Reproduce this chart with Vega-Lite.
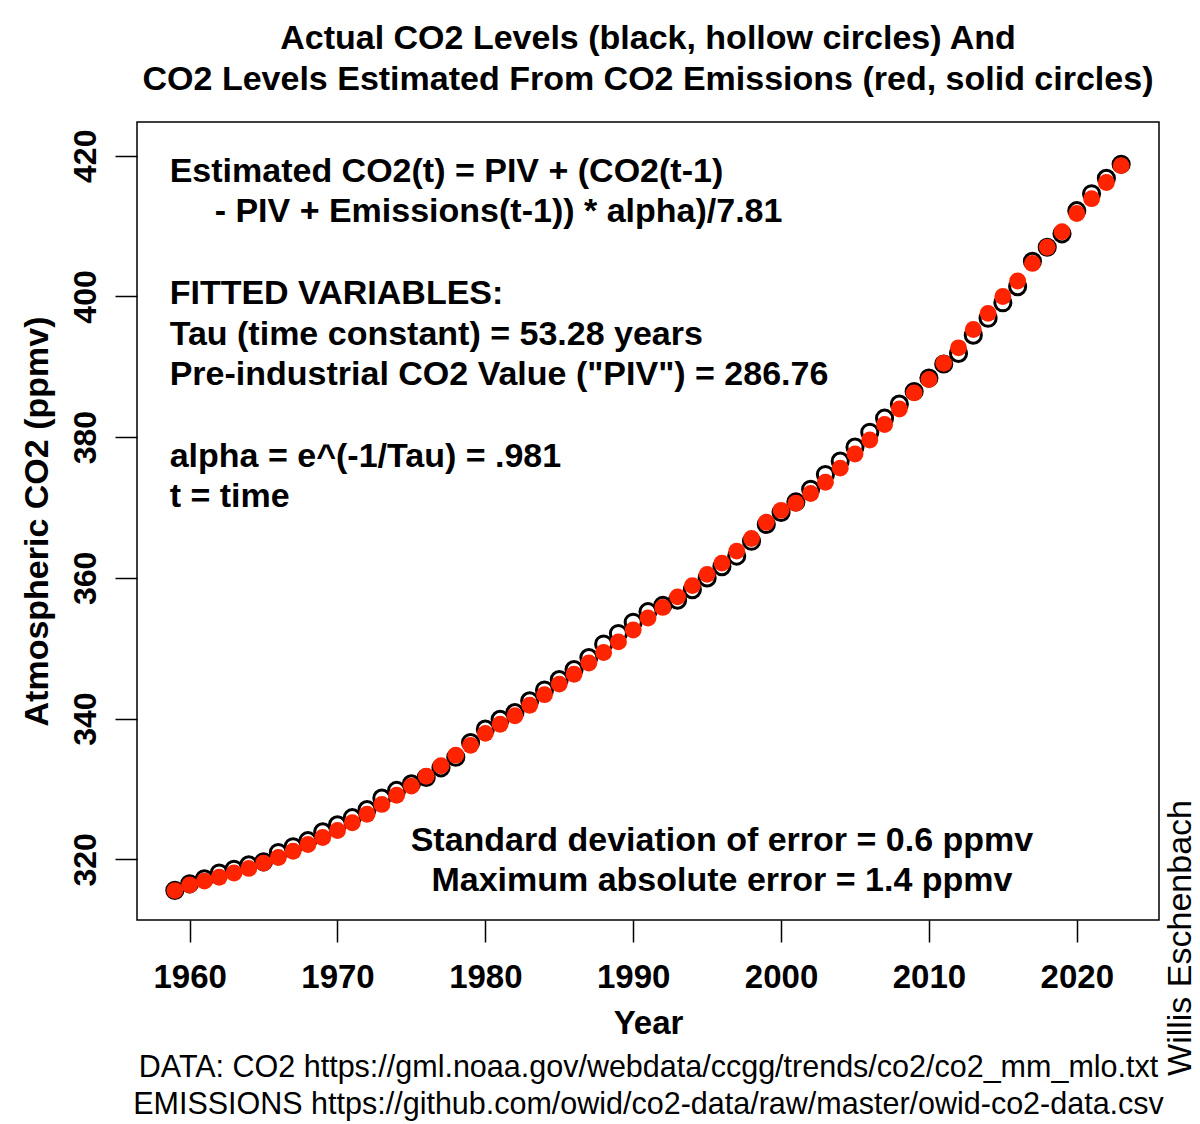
{
  "$schema": "https://vega.github.io/schema/vega-lite/v6.json",
  "width": 1022,
  "height": 798,
  "autosize": "none",
  "padding": {"left": 137, "top": 122, "right": 41, "bottom": 204},
  "background": "white",
  "title": {
    "text": ["Actual CO2 Levels (black, hollow circles) And", "CO2 Levels Estimated From CO2 Emissions (red, solid circles)"],
    "font": "Liberation Sans",
    "fontSize": 34,
    "fontWeight": "bold",
    "color": "black",
    "lineHeight": 41,
    "anchor": "middle",
    "offset": 25
  },
  "config": {
    "font": "Liberation Sans",
    "view": {"stroke": "black", "strokeWidth": 1.5},
    "axis": {"grid": false}
  },
  "datasets": {
    "co2": [
      {"year": 1959, "co2": 315.58, "est": 315.55},
      {"year": 1960, "co2": 316.51, "est": 316.35},
      {"year": 1961, "co2": 317.24, "est": 316.9},
      {"year": 1962, "co2": 318.05, "est": 317.45},
      {"year": 1963, "co2": 318.59, "est": 318.05},
      {"year": 1964, "co2": 319.22, "est": 318.7},
      {"year": 1965, "co2": 319.64, "est": 319.45},
      {"year": 1966, "co2": 320.97, "est": 320.25},
      {"year": 1967, "co2": 321.78, "est": 321.15},
      {"year": 1968, "co2": 322.65, "est": 322.1},
      {"year": 1969, "co2": 323.9, "est": 323.1},
      {"year": 1970, "co2": 324.9, "est": 324.1},
      {"year": 1971, "co2": 325.92, "est": 325.2},
      {"year": 1972, "co2": 327.06, "est": 326.4},
      {"year": 1973, "co2": 328.7, "est": 327.8},
      {"year": 1974, "co2": 329.79, "est": 329.1},
      {"year": 1975, "co2": 330.73, "est": 330.4},
      {"year": 1976, "co2": 331.63, "est": 331.8},
      {"year": 1977, "co2": 333.0, "est": 333.3},
      {"year": 1978, "co2": 334.5, "est": 334.8},
      {"year": 1979, "co2": 336.6, "est": 336.2},
      {"year": 1980, "co2": 338.5, "est": 337.9},
      {"year": 1981, "co2": 339.9, "est": 339.2},
      {"year": 1982, "co2": 340.86, "est": 340.4},
      {"year": 1983, "co2": 342.53, "est": 341.9},
      {"year": 1984, "co2": 344.07, "est": 343.4},
      {"year": 1985, "co2": 345.54, "est": 344.9},
      {"year": 1986, "co2": 346.97, "est": 346.3},
      {"year": 1987, "co2": 348.68, "est": 347.9},
      {"year": 1988, "co2": 350.6, "est": 349.4},
      {"year": 1989, "co2": 352.1, "est": 350.9},
      {"year": 1990, "co2": 353.7, "est": 352.6},
      {"year": 1991, "co2": 355.2, "est": 354.3},
      {"year": 1992, "co2": 356.09, "est": 355.8},
      {"year": 1993, "co2": 356.83, "est": 357.3},
      {"year": 1994, "co2": 358.33, "est": 358.9},
      {"year": 1995, "co2": 360.0, "est": 360.5},
      {"year": 1996, "co2": 361.6, "est": 362.1},
      {"year": 1997, "co2": 363.1, "est": 363.8},
      {"year": 1998, "co2": 365.2, "est": 365.6},
      {"year": 1999, "co2": 367.6, "est": 367.9},
      {"year": 2000, "co2": 369.3, "est": 369.6},
      {"year": 2001, "co2": 370.8, "est": 370.6},
      {"year": 2002, "co2": 372.6, "est": 372.0},
      {"year": 2003, "co2": 374.7, "est": 373.6},
      {"year": 2004, "co2": 376.6, "est": 375.6},
      {"year": 2005, "co2": 378.6, "est": 377.6},
      {"year": 2006, "co2": 380.7, "est": 379.6},
      {"year": 2007, "co2": 382.7, "est": 381.8},
      {"year": 2008, "co2": 384.7, "est": 384.0},
      {"year": 2009, "co2": 386.5, "est": 386.3},
      {"year": 2010, "co2": 388.4, "est": 388.2},
      {"year": 2011, "co2": 390.4, "est": 390.5},
      {"year": 2012, "co2": 391.9, "est": 392.7},
      {"year": 2013, "co2": 394.5, "est": 395.3},
      {"year": 2014, "co2": 396.9, "est": 397.6},
      {"year": 2015, "co2": 399.1, "est": 400.0},
      {"year": 2016, "co2": 401.4, "est": 402.2},
      {"year": 2017, "co2": 405.0, "est": 404.7},
      {"year": 2018, "co2": 407.0, "est": 407.0},
      {"year": 2019, "co2": 408.9, "est": 409.2},
      {"year": 2020, "co2": 412.2, "est": 411.8},
      {"year": 2021, "co2": 414.6, "est": 413.9},
      {"year": 2022, "co2": 416.8, "est": 416.2},
      {"year": 2023, "co2": 418.8, "est": 418.6}
    ],
    "notesLeft": [
      {"nx": 1958.65, "ny": 416.3, "label": "Estimated CO2(t) = PIV + (CO2(t-1)"},
      {"nx": 1961.69, "ny": 410.52, "label": "- PIV + Emissions(t-1)) * alpha)/7.81"},
      {"nx": 1958.65, "ny": 398.94, "label": "FITTED VARIABLES:"},
      {"nx": 1958.65, "ny": 393.16, "label": "Tau (time constant) = 53.28 years"},
      {"nx": 1958.65, "ny": 387.37, "label": "Pre-industrial CO2 Value (\"PIV\") = 286.76"},
      {"nx": 1958.65, "ny": 375.79, "label": "alpha = e^(-1/Tau) = .981"},
      {"nx": 1958.65, "ny": 370.01, "label": "t = time"}
    ],
    "notesCenter": [
      {"nx": 1996.0, "ny": 321.18, "label": "Standard deviation of error = 0.6 ppmv"},
      {"nx": 1996.0, "ny": 315.49, "label": "Maximum absolute error = 1.4 ppmv"}
    ]
  },
  "layer": [
    {
      "data": {"name": "co2"},
      "mark": {"type": "point", "filled": false, "stroke": "black", "strokeWidth": 3, "size": 260, "opacity": 1},
      "encoding": {
        "x": {
          "field": "year", "type": "quantitative",
          "scale": {"domain": [1956.44, 2025.56], "nice": false, "zero": false},
          "axis": {
            "orient": "bottom",
            "values": [1960, 1970, 1980, 1990, 2000, 2010, 2020],
            "format": "d",
            "domain": false,
            "tickSize": 22, "tickColor": "black", "tickWidth": 1.5,
            "labelFont": "Liberation Sans", "labelFontSize": 33, "labelFontWeight": "bold", "labelColor": "black",
            "labelPadding": 19, "labelFlush": false, "labelOverlap": false,
            "title": "Year",
            "titleFont": "Liberation Sans", "titleFontSize": 33, "titleFontWeight": "bold", "titleColor": "black",
            "titleX": 511, "titleY": 113, "titleAlign": "center", "titleBaseline": "alphabetic", "titleAnchor": null
          }
        },
        "y": {
          "field": "co2", "type": "quantitative",
          "scale": {"domain": [311.37, 424.8], "nice": false, "zero": false},
          "axis": {
            "orient": "left",
            "values": [320, 340, 360, 380, 400, 420],
            "domain": false,
            "tickSize": 22, "tickColor": "black", "tickWidth": 1.5,
            "labelFont": "Liberation Sans", "labelFontSize": 32, "labelFontWeight": "bold", "labelColor": "black",
            "labelAngle": 270, "labelAlign": "center", "labelBaseline": "alphabetic", "labelPadding": 20,
            "labelFlush": false, "labelOverlap": false,
            "title": "Atmospheric CO2 (ppmv)",
            "titleFont": "Liberation Sans", "titleFontSize": 34, "titleFontWeight": "bold", "titleColor": "black",
            "titleAngle": 270, "titleX": -90, "titleY": 399, "titleAlign": "center", "titleBaseline": "alphabetic", "titleAnchor": null
          }
        }
      }
    },
    {
      "data": {"name": "co2"},
      "mark": {"type": "point", "filled": true, "fill": "#ff2400", "strokeWidth": 0, "size": 285, "opacity": 1},
      "encoding": {
        "x": {"field": "year", "type": "quantitative", "scale": {"domain": [1956.44, 2025.56], "nice": false, "zero": false}, "axis": null},
        "y": {"field": "est", "type": "quantitative", "scale": {"domain": [311.37, 424.8], "nice": false, "zero": false}, "axis": null}
      }
    },
    {
      "mark": {"type": "rule", "stroke": "black", "strokeWidth": 1.5},
      "encoding": {
        "x": {
          "datum": 2020, "type": "quantitative",
          "scale": {"domain": [1956.44, 2025.56], "nice": false, "zero": false},
          "axis": {
            "orient": "bottom",
            "labels": false, "ticks": false, "domain": false, "grid": false,
            "title": ["DATA: CO2 https://gml.noaa.gov/webdata/ccgg/trends/co2/co2_mm_mlo.txt", "EMISSIONS https://github.com/owid/co2-data/raw/master/owid-co2-data.csv"],
            "titleFont": "Liberation Sans", "titleFontSize": 30.5, "titleFontWeight": "normal", "titleColor": "black",
            "titleLineHeight": 36.7,
            "titleX": 511, "titleY": 156.7, "titleAlign": "center", "titleBaseline": "alphabetic", "titleAnchor": null
          }
        }
      }
    },
    {
      "data": {"name": "notesLeft"},
      "mark": {"type": "text", "font": "Liberation Sans", "fontSize": 34, "fontWeight": "bold", "color": "black", "align": "left", "baseline": "alphabetic"},
      "encoding": {
        "x": {"field": "nx", "type": "quantitative", "scale": {"domain": [1956.44, 2025.56], "nice": false, "zero": false}, "axis": null},
        "y": {
          "field": "ny", "type": "quantitative",
          "scale": {"domain": [311.37, 424.8], "nice": false, "zero": false},
          "axis": {
            "orient": "right",
            "labels": false, "ticks": false, "domain": false, "grid": false,
            "title": "Willis Eschenbach",
            "titleFont": "Liberation Sans", "titleFontSize": 34, "titleFontWeight": "normal", "titleColor": "black",
            "titleAngle": 270, "titleX": 31, "titleY": 815.5, "titleAlign": "center", "titleBaseline": "alphabetic", "titleAnchor": null
          }
        },
        "text": {"field": "label", "type": "nominal"}
      }
    },
    {
      "data": {"name": "notesCenter"},
      "mark": {"type": "text", "font": "Liberation Sans", "fontSize": 34, "fontWeight": "bold", "color": "black", "align": "center", "baseline": "alphabetic"},
      "encoding": {
        "x": {"field": "nx", "type": "quantitative", "scale": {"domain": [1956.44, 2025.56], "nice": false, "zero": false}, "axis": null},
        "y": {"field": "ny", "type": "quantitative", "scale": {"domain": [311.37, 424.8], "nice": false, "zero": false}, "axis": null},
        "text": {"field": "label", "type": "nominal"}
      }
    }
  ],
  "resolve": {"axis": {"x": "independent", "y": "independent"}}
}
